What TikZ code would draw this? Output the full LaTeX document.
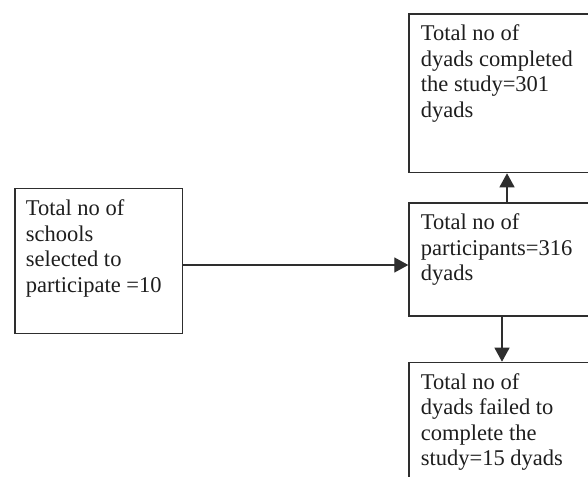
\documentclass[tikz,border=0pt]{standalone}
\usepackage{fontspec}
\setmainfont{Liberation Serif}
\usetikzlibrary{arrows.meta}
\definecolor{linec}{HTML}{2E2E2E}
\definecolor{textc}{HTML}{1E1E1E}
\tikzset{
  boxnode/.style={draw=linec, line width=1.3pt, rectangle, inner sep=0pt, anchor=north west},
  txtnode/.style={anchor=base west, inner sep=0pt, text=textc, font=\fontsize{22.5}{25.5}\selectfont},
  conn/.style={draw=linec, line width=1.3pt, -{Triangle[width=15pt,length=14pt]}}
}
\newcommand{\lines}[1]{\begin{tabular}[t]{@{}l@{}}#1\end{tabular}}
\begin{document}
\begin{tikzpicture}[x=1pt,y=-1pt]
\useasboundingbox (0,0) rectangle (588,476);
\clip (0,0) rectangle (588,476);
\fill[white] (0,0) rectangle (588,476);
\node[boxnode, minimum width=167.4pt, minimum height=145pt] (left) at (14.3,188) {};
\node[boxnode, minimum width=212pt, minimum height=158.7pt] (top) at (408.3,13.3) {};
\node[boxnode, minimum width=212pt, minimum height=113pt] (mid) at (408.3,202.3) {};
\node[boxnode, minimum width=212pt, minimum height=140pt] (bot) at (408.3,361.7) {};
\node[txtnode] (lefttxt) at ([shift={(11.4pt,-27.5pt)}]left.north west) {\lines{Total no of\\schools\\selected to\\participate =10}};
\node[txtnode] (toptxt) at ([shift={(12.4pt,-27.5pt)}]top.north west) {\lines{Total no of\\dyads completed\\the study=301\\dyads}};
\node[txtnode] (midtxt) at ([shift={(12.4pt,-27.5pt)}]mid.north west) {\lines{Total no of\\participants=316\\dyads}};
\node[txtnode] (bottxt) at ([shift={(12.4pt,-27.5pt)}]bot.north west) {\lines{Total no of\\dyads failed to\\complete the\\study=15 dyads}};
\coordinate (upx) at (507,0);
\coordinate (downx) at (502,0);
\coordinate (hy) at (0,265);
\draw[conn] (left.east |- hy) -- (mid.west |- hy);
\draw[conn] (mid.north -| upx) -- (top.south -| upx);
\draw[conn] (mid.south -| downx) -- (bot.north -| downx);
\end{tikzpicture}
\end{document}
